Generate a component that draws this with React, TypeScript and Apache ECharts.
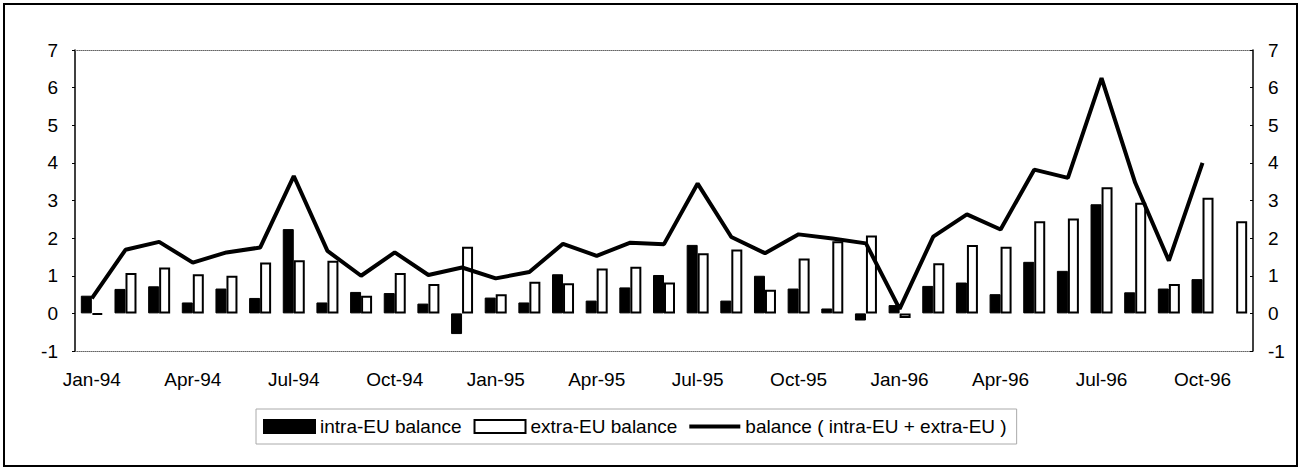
import React, { useEffect, useRef } from "react";
import * as echarts from "echarts";

const categories = [
  "Jan-94", "Feb-94", "Mar-94", "Apr-94", "May-94", "Jun-94", "Jul-94", "Aug-94", "Sep-94", "Oct-94", "Nov-94", "Dec-94",
  "Jan-95", "Feb-95", "Mar-95", "Apr-95", "May-95", "Jun-95", "Jul-95", "Aug-95", "Sep-95", "Oct-95", "Nov-95", "Dec-95",
  "Jan-96", "Feb-96", "Mar-96", "Apr-96", "May-96", "Jun-96", "Jul-96", "Aug-96", "Sep-96", "Oct-96", "Nov-96",
];

const intraEU = [
  0.47, 0.65, 0.72, 0.29, 0.66, 0.41, 2.24, 0.29, 0.57, 0.54, 0.26, -0.55,
  0.42, 0.29, 1.04, 0.34, 0.69, 1.02, 1.82, 0.34, 1.0, 0.66, 0.13, -0.19,
  0.22, 0.73, 0.82, 0.51, 1.37, 1.13, 2.9, 0.56, 0.66, 0.91, null,
];

const extraEU = [
  -0.03, 1.07, 1.22, 1.04, 1.0, 1.35, 1.41, 1.4, 0.47, 1.07, 0.78, 1.77,
  0.51, 0.84, 0.8, 1.19, 1.24, 0.82, 1.6, 1.7, 0.63, 1.46, 1.92, 2.07,
  -0.12, 1.33, 1.82, 1.77, 2.45, 2.52, 3.35, 2.94, 0.78, 3.07, 2.45,
];

const balance = [
  0.4, 1.69, 1.9, 1.35, 1.62, 1.75, 3.65, 1.66, 1.0, 1.62, 1.02, 1.22,
  0.93, 1.1, 1.85, 1.53, 1.88, 1.84, 3.45, 2.03, 1.6, 2.1, 1.99, 1.86,
  0.12, 2.04, 2.63, 2.23, 3.82, 3.6, 6.25, 3.47, 1.4, 4.0, null,
];

const seriesNames = [
  "intra-EU balance",
  "extra-EU balance",
  "balance ( intra-EU + extra-EU )",
];

const FONT = "Liberation Sans, Arial, sans-serif";

export default function App() {
  const ref = useRef<HTMLDivElement>(null);

  useEffect(() => {
    if (!ref.current) return;
    const chart = echarts.init(ref.current, undefined, { renderer: "svg" });
    const yAxisCommon = {
      type: "value",
      min: -1,
      max: 7,
      interval: 1,
      axisLine: { show: true, lineStyle: { color: "#000", width: 1.5 } },
      axisTick: { show: true, length: 3, inside: true, lineStyle: { color: "#000" } },
      splitLine: { show: false },
      axisLabel: { color: "#000", fontSize: 19, fontFamily: FONT },
    };
    chart.setOption({
      animation: false,
      backgroundColor: "#fff",
      textStyle: { fontFamily: FONT },
      grid: { left: 75, right: 48, top: 50, bottom: 118, containLabel: false },
      legend: {
        data: [
          { name: seriesNames[0], icon: "rect" },
          { name: seriesNames[1], icon: "rect" },
          { name: seriesNames[2], icon: "path://M0,0H54V4H0Z", itemStyle: { color: "#000" } },
        ],
        left: 256,
        top: 409,
        itemWidth: 51,
        itemHeight: 13,
        itemGap: 12,
        symbolKeepAspect: true,
        padding: [8, 10, 8, 7],
        borderColor: "#aaa",
        borderWidth: 1,
        textStyle: { color: "#000", fontSize: 19, fontFamily: FONT },
      },
      xAxis: [
        {
          type: "category",
          data: categories,
          position: "bottom",
          axisLine: { show: true, onZero: false, lineStyle: { color: "#666", type: "dotted", width: 1 } },
          axisTick: { show: false },
          axisLabel: { interval: 2, color: "#000", fontSize: 19, fontFamily: FONT, margin: 19 },
          splitLine: { show: false },
        },
        {
          type: "category",
          data: categories,
          position: "top",
          axisLine: { show: true, onZero: false, lineStyle: { color: "#666", type: "dotted", width: 1 } },
          axisTick: { show: false },
          axisLabel: { show: false },
          splitLine: { show: false },
        },
      ],
      yAxis: [
        { ...yAxisCommon, position: "left", axisTick: { ...yAxisCommon.axisTick, inside: false }, axisLabel: { ...yAxisCommon.axisLabel, margin: 17 } },
        { ...yAxisCommon, position: "right", axisLabel: { ...yAxisCommon.axisLabel, margin: 15 } },
      ],
      series: [
        {
          name: seriesNames[0],
          type: "bar",
          data: intraEU,
          barWidth: 11,
          barGap: "0%",
          itemStyle: { color: "#000", borderColor: "#000", borderWidth: 1 },
        },
        {
          name: seriesNames[1],
          type: "bar",
          data: extraEU,
          barWidth: 11,
          barGap: "0%",
          itemStyle: { color: "#fff", borderColor: "#000", borderWidth: 2 },
        },
        {
          name: seriesNames[2],
          type: "line",
          data: balance,
          symbol: "none",
          connectNulls: false,
          z: 5,
          lineStyle: { color: "#000", width: 4 },
          itemStyle: { color: "#000" },
        },
      ],
      graphic: [
        {
          type: "rect",
          shape: { x: 4, y: 4, width: 1293, height: 462 },
          style: { fill: "none", stroke: "#000", lineWidth: 2 },
          silent: true,
        },
      ],
    });
    return () => chart.dispose();
  }, []);

  return (
    <div
      ref={ref}
      style={{ position: "fixed", left: 0, top: 0, width: 1301, height: 469, background: "#fff" }}
    />
  );
}
